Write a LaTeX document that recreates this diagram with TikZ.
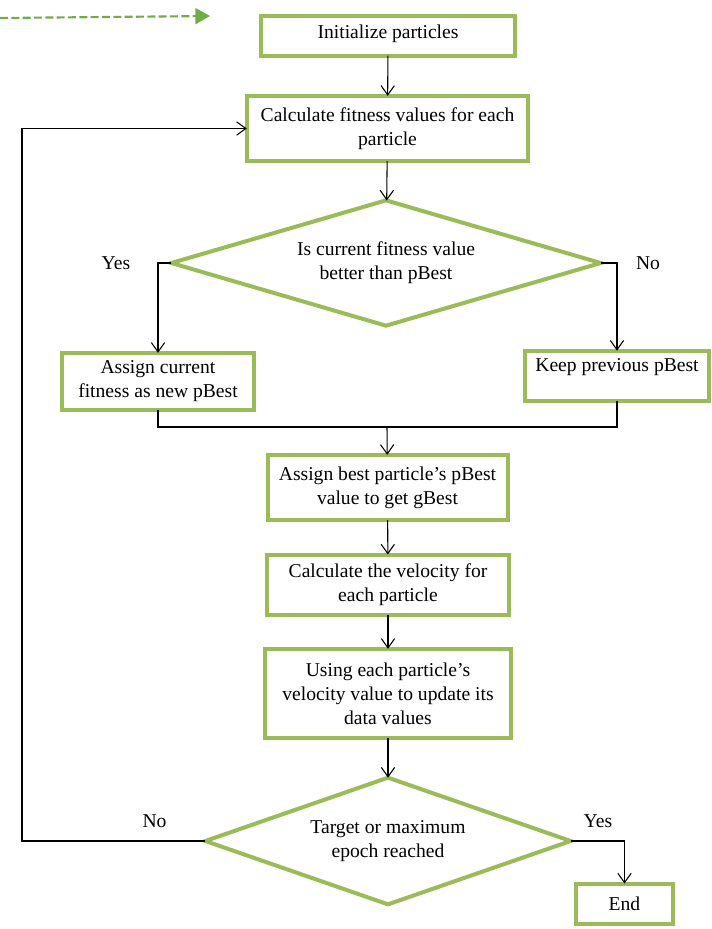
\documentclass[tikz,border=0pt]{standalone}
\usepackage{fontspec}
\setmainfont{Liberation Serif}
\usetikzlibrary{shapes.geometric,arrows.meta}
\definecolor{boxgreen}{HTML}{9BBB59}
\definecolor{dashgreen}{HTML}{70AD47}
\begin{document}
\begin{tikzpicture}[x=0.75pt,y=-0.75pt,font=\fontsize{14.7}{18}\selectfont,
  box/.style={draw=boxgreen,line width=3pt,fill=white,align=center,inner sep=0pt,outer sep=0pt},
  decision/.style={diamond,aspect=3.4,draw=boxgreen,line width=3pt,fill=white,align=center,inner sep=0pt,outer sep=0pt},
  arr/.style={line width=0.8pt,-{Straight Barb[length=7pt,width=10pt]}}]
\useasboundingbox (0,0) rectangle (712,929);
\coordinate (dstart) at (0,18);
\coordinate (dend) at (210,16);
\draw[dashgreen,line width=1.6pt,dash pattern=on 6pt off 2.5pt,-{Triangle[length=11pt,width=12pt]}] (dstart) -- (dend);
\node[box,minimum width=191pt,minimum height=30pt,text depth=5pt] (init) at (388,35.5) {Initialize particles};
\node[box,minimum width=211pt,minimum height=49pt] (fit) at (387.5,128.5) {Calculate fitness values for each\\particle};
\node[decision,minimum width=322pt,minimum height=94pt] (dec1) at (386,263) {Is current fitness value\\better than pBest};
\node[box,minimum width=144pt,minimum height=43pt] (yesbox) at (158,381.5) {Assign current\\fitness as new pBest};
\node[box,minimum width=138pt,minimum height=38pt,text depth=17pt] (keep) at (617,376) {Keep previous pBest};
\coordinate (join) at (387,427);
\node[box,minimum width=180pt,minimum height=49pt] (gbest) at (387.5,487.5) {Assign best particle’s pBest\\value to get gBest};
\node[box,minimum width=181pt,minimum height=45pt] (vel) at (388,584.5) {Calculate the velocity for\\each particle};
\node[box,minimum width=185pt,minimum height=67pt] (upd) at (388,693.5) {Using each particle’s\\velocity value to update its\\data values};
\node[decision,minimum width=274pt,minimum height=95pt] (dec2) at (388,841) {Target or maximum\\epoch reached};
\node[box,minimum width=73pt,minimum height=30pt] (end) at (624.5,903.5) {End};
\coordinate (loop) at (22,841);
% labels of the branches
\node (yes1) at (116,263) {Yes};
\node (no1) at (648,263) {No};
\node (no2) at (154.5,821) {No};
\node (yes2) at (598,821) {Yes};
% connectors
\draw[arr] (init) -- (fit);
\draw[arr] (fit) -- (dec1);
\draw[arr] (dec1.west) -| (yesbox.north);
\draw[arr] (dec1.east) -| (keep.north);
\draw[line width=0.8pt] (yesbox.south) |- (join) -| (keep.south);
\draw[arr] (join) -- (gbest);
\draw[arr] (gbest) -- (vel);
\draw[arr] (vel) -- (upd);
\draw[arr] (upd) -- (dec2);
\draw[arr] (dec2.east) -| (end.north);
\draw[arr] (dec2.west) -- (loop) |- (fit.west);
\end{tikzpicture}
\end{document}
